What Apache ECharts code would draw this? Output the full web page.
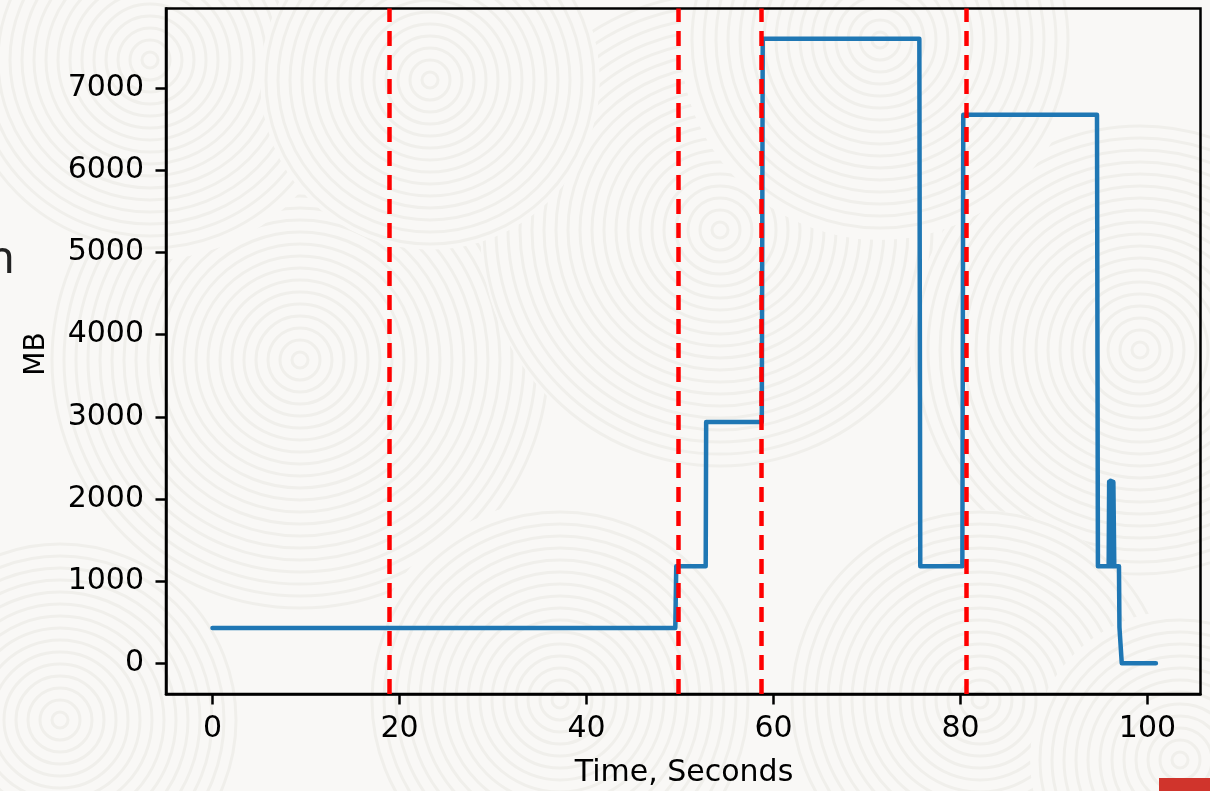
<!DOCTYPE html>
<html>
<head>
<meta charset="utf-8">
<script src="https://cdn.jsdelivr.net/npm/echarts@6/dist/echarts.min.js"></script>
<style>
  html, body { margin: 0; padding: 0; width: 1210px; height: 791px; overflow: hidden; background: #f9f8f6; }
  #bg { position: absolute; left: 0; top: 0; }
  #chart { position: absolute; left: 0; top: 0; width: 1210px; height: 791px; }
</style>
</head>
<body>
<canvas id="bg" width="1210" height="791"></canvas>
<div id="chart"></div>
<script>
// ---- data ----
const timeSec = [0, 49.5, 49.6, 52.75, 52.8, 58.75, 58.85, 75.6, 75.7, 80.2, 80.3, 94.6, 94.7,
  95.85, 95.9, 96.0, 96.05, 96.15, 96.2, 96.3, 96.35, 96.45, 96.5, 96.95, 97.0, 97.15, 97.25, 100.9];
const memMB = [430, 430, 1180, 1180, 2935, 2935, 7600, 7600, 1180, 1180, 6675, 6675, 1180,
  1180, 2210, 1180, 2220, 1180, 2215, 1180, 2205, 1180, 1180, 1180, 440, 420, 0, 0];
const markerTimes = [18.95, 49.82, 58.74, 80.59];
const xTicks = [0, 20, 40, 60, 80, 100];
const yTicks = [0, 1000, 2000, 3000, 4000, 5000, 6000, 7000];

// ---- decorative background texture (not data) ----
(function () {
  const c = document.getElementById('bg');
  const g = c.getContext('2d');
  g.fillStyle = '#f9f8f6';
  g.fillRect(0, 0, 1210, 791);
  const centers = [
    [300, 360, 260], [720, 230, 240], [1140, 350, 230], [880, 40, 200], [560, 700, 200],
    [60, 720, 180], [980, 700, 190], [150, 60, 200], [430, 80, 170], [1180, 760, 150]
  ];
  centers.forEach(([cx, cy, r]) => {
    g.save();
    g.beginPath();
    g.arc(cx, cy, r, 0, Math.PI * 2);
    g.clip();
    g.fillStyle = '#f9f8f6';
    g.fill();
    g.strokeStyle = '#f0efeb';
    g.lineWidth = 3;
    for (let rr = 8; rr < r; rr += 12) {
      g.beginPath();
      g.arc(cx, cy, rr, 0, Math.PI * 2);
      g.stroke();
    }
    g.restore();
  });
})();

// ---- chart ----
const chart = echarts.init(document.getElementById('chart'), null, { renderer: 'canvas' });
const font = 'DejaVu Sans';
chart.setOption({
  animation: false,
  backgroundColor: 'transparent',
  grid: {
    left: 166, right: 9.5, top: 8.5, bottom: 97,
    show: true, borderColor: '#000', borderWidth: 2.5, backgroundColor: 'transparent'
  },
  xAxis: {
    type: 'value', min: -4.97, max: 105.67,
    axisLine: { show: true, onZero: false, lineStyle: { color: '#000', width: 2.5 } },
    axisTick: { show: true, inside: false, length: 10.5, customValues: xTicks, lineStyle: { color: '#000', width: 2.5 } },
    axisLabel: { customValues: xTicks, fontSize: 30, fontFamily: font, color: '#000', margin: 20,
      formatter: v => String(v) },
    splitLine: { show: false }
  },
  yAxis: {
    type: 'value', min: -374, max: 7969,
    axisLine: { show: true, onZero: false, lineStyle: { color: '#000', width: 2.5 } },
    axisTick: { show: true, inside: false, length: 10.5, customValues: yTicks, lineStyle: { color: '#000', width: 2.5 } },
    axisLabel: { customValues: yTicks, fontSize: 30, fontFamily: font, color: '#000', margin: 22,
      formatter: v => String(v) },
    splitLine: { show: false }
  },
  series: [{
    type: 'line',
    data: timeSec.map((t, i) => [t, memMB[i]]),
    symbol: 'none',
    showSymbol: false,
    lineStyle: { color: '#1f77b4', width: 4.5, join: 'round', cap: 'round' },
    markLine: {
      silent: true,
      symbol: ['none', 'none'],
      label: { show: false },
      lineStyle: { color: '#ff0000', width: 4.5, type: [15, 9] },
      data: markerTimes.map(v => ({ xAxis: v }))
    }
  }],
  graphic: [
    { type: 'text', x: 37, y: 354, rotation: Math.PI / 2,
      style: { text: 'MB', font: '28px "DejaVu Sans"', fill: '#000', align: 'center', verticalAlign: 'middle' } },
    { type: 'text', x: 684, y: 773,
      style: { text: 'Time, Seconds', font: '30px "DejaVu Sans"', fill: '#000', align: 'center', verticalAlign: 'middle' } },
    { type: 'text', x: 15, y: 260,
      style: { text: 'n', font: '46px "Noto Sans"', fill: '#222', align: 'right', verticalAlign: 'middle' } },
    { type: 'rect', shape: { x: 1159, y: 778, width: 51, height: 13 }, style: { fill: '#d0342c' } }
  ]
});
</script>
</body>
</html>
